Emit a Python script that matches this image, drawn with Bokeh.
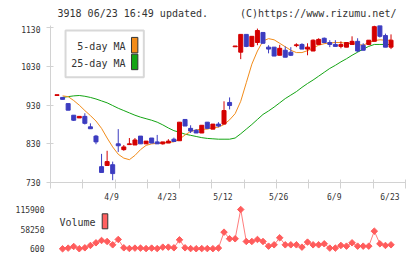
import numpy as np
from bokeh.plotting import figure
from bokeh.layouts import column
from bokeh.models import FixedTicker, Range1d, ColumnDataSource
from bokeh.core.properties import value
from bokeh.embed import file_html
from bokeh.resources import INLINE

# ---------------- data ----------------
date_labels = ["4/9", "4/23", "5/12", "5/26", "6/9", "6/23"]
date_label_idx = [10, 20, 30, 40, 50, 60]

opens = [955, 950, 934, 904, 897, 901, 874, 850, 771, 774,
         776, 830, 815, 828, 827, 850, 830, 845, 835, 830,
         832, 842, 838, 893, 870, 865, 858, 886, 868, 881,
         881, 937, 1081, 1067, 1113, 1082, 1092, 1118, 1080, 1080,
         1059, 1072, 1067, 1084, 1087, 1075, 1070, 1087, 1103, 1092,
         1087, 1082, 1080, 1087, 1095, 1085, 1087, 1095, 1136, 1110,
         1080]
highs = [957, 950, 934, 904, 901, 909, 883, 853, 804, 812,
         784, 868, 827, 845, 845, 850, 837, 845, 853, 835,
         842, 846, 886, 893, 878, 868, 878, 886, 881, 886,
         940, 950, 1083, 1113, 1113, 1108, 1128, 1118, 1085, 1080,
         1086, 1082, 1080, 1090, 1090, 1090, 1100, 1103, 1105, 1098,
         1098, 1095, 1092, 1108, 1103, 1090, 1098, 1136, 1136, 1115,
         1113]
lows = [955, 945, 917, 889, 897, 880, 869, 829, 756, 774,
        736, 809, 812, 828, 827, 830, 830, 832, 830, 828,
        832, 836, 838, 876, 858, 858, 858, 870, 868, 873,
        881, 919, 1081, 1049, 1080, 1080, 1085, 1090, 1064, 1057,
        1059, 1054, 1057, 1080, 1075, 1059, 1070, 1087, 1090, 1080,
        1082, 1077, 1080, 1087, 1067, 1072, 1085, 1095, 1105, 1080,
        1075]
closes = [957, 945, 917, 891, 901, 883, 869, 835, 756, 784,
          753, 825, 822, 830, 840, 830, 837, 832, 830, 835,
          837, 836, 886, 876, 863, 858, 878, 870, 881, 876,
          916, 929, 1083, 1113, 1082, 1108, 1123, 1090, 1075, 1057,
          1077, 1054, 1059, 1086, 1075, 1080, 1098, 1100, 1092, 1087,
          1082, 1087, 1092, 1095, 1070, 1072, 1098, 1133, 1108, 1080,
          1098]

# moving averages and volume start at the 2nd candle
ma5 = [954, 952, 942, 930, 916, 903, 889, 870, 845, 822,
       803, 793, 789, 800, 815, 826, 830, 831, 832, 834,
       835, 842, 853, 862, 866, 868, 868, 872, 873, 880,
       892, 908, 940, 988, 1036, 1070, 1096, 1102, 1099, 1090,
       1081, 1072, 1066, 1066, 1071, 1078, 1085, 1089, 1091, 1092,
       1092, 1090, 1089, 1087, 1085, 1092, 1097, 1099, 1098, 1098]
ma25 = [950, 952, 954, 955, 953, 950, 946, 941, 936, 929,
        922, 916, 910, 904, 899, 895, 891, 886, 879, 871,
        864, 860, 855, 852, 849, 846, 844, 843, 842, 842,
        842, 845, 856, 868, 880, 893, 906, 915, 925, 936,
        947, 956, 965, 976, 986, 995, 1005, 1015, 1025, 1033,
        1042, 1050, 1059, 1067, 1075, 1082, 1087, 1087, 1087, 1087]
volume = [600, 2600, 7400, 800, 3500, 10400, 18200, 25000, 22100, 12300,
          28000, 3500, 1500, 2600, 2600, 1200, 2600, 1200, 5500, 5500,
          3500, 27000, 3500, 1200, 800, 1200, 1200, 1000, 2600, 49500,
          30000, 30000, 115900, 22100, 22100, 28000, 22100, 8400, 12300, 32900,
          12300, 12300, 12300, 5500, 20200, 12300, 12300, 15300, 2600, 2600,
          10400, 8400, 18200, 8400, 8400, 8400, 52400, 15300, 10400, 12300]

price_ticks = [730, 830, 930, 1030, 1130]
vol_ticks = [600, 58250, 115900]
vol_tick_labels = ["600", "58250", "115900"]
legend_labels = ["5-day MA", "25-day MA"]
header_left = "3918 06/23 16:49 updated."
header_right = "(C)https://www.rizumu.net/"

# ---------------- styles ----------------
FONT = "DejaVu Sans Mono"
RED = "#d40000"
BLUE = "#3c3cc0"
ORANGE = "#f28c1a"
GREEN = "#14a514"
VOLC = "#ff5c5c"
AXIS = "#d2d2d2"
TXT = "#333333"

W = 420
X0, X1 = -1.17, 62.6

idx = list(range(len(opens)))
colors = [RED if c >= o else BLUE for o, c in zip(opens, closes)]
src = ColumnDataSource(dict(
    x=idx, high=highs, low=lows,
    top=[max(o, c) for o, c in zip(opens, closes)],
    bottom=[min(o, c) for o, c in zip(opens, closes)],
    color=colors))
ma_idx = list(range(1, len(opens)))

# ---------------- header strip ----------------
ph = figure(width=W, height=25, x_range=Range1d(0, W), y_range=Range1d(0, 25),
            output_backend="svg", toolbar_location=None,
            x_axis_location=None, y_axis_location=None,
            min_border_left=0, min_border_right=0, min_border_top=0, min_border_bottom=0)
ph.outline_line_color = None
ph.grid.visible = False
ph.text(x=[8.3], y=[12.3], text=[header_left], text_align="left", text_baseline="middle",
        text_font=value(FONT), text_font_size="10px", text_color=TXT)
ph.text(x=[409.3], y=[12.3], text=[header_right], text_align="right", text_baseline="middle",
        text_font=value(FONT), text_font_size="10px", text_color=TXT)

# ---------------- main price figure ----------------
p = figure(width=W, height=179, x_range=Range1d(X0, X1), y_range=Range1d(730, 1136),
           output_backend="svg", toolbar_location=None,
           min_border_left=50, min_border_right=15, min_border_top=0, min_border_bottom=20)
p.outline_line_color = None
p.grid.visible = False

p.line(ma_idx, ma25, color=GREEN, line_width=1)
p.line(ma_idx, ma5, color=ORANGE, line_width=1)

p.segment(x0="x", y0="low", x1="x", y1="high", color="color", line_width=1, source=src)
p.vbar(x="x", width=0.72, top="top", bottom="bottom", fill_color="color",
       line_color="color", line_width=1, source=src)

# legend box (text left, swatch right)
p.quad(left=[1.53], right=[15.59], top=[1123.1], bottom=[1002.4],
       fill_color="white", line_color="#d8d8d8", line_width=2)
p.text(x=[12.3, 12.3], y=[1080.5, 1038.1], text=legend_labels,
       text_align="right", text_baseline="middle", text_font=value(FONT),
       text_font_size="10px", text_color=TXT)
p.quad(left=[13.38, 13.38], right=[14.52, 14.52], top=[1105.2, 1061.8],
       bottom=[1065.2, 1021.8], fill_color=[ORANGE, GREEN],
       line_color="#333333", line_width=1)

p.yaxis.ticker = FixedTicker(ticks=price_ticks)
p.yaxis.axis_line_color = AXIS
p.yaxis.major_tick_line_color = AXIS
p.yaxis.minor_tick_line_color = None
p.yaxis.major_tick_in = 3
p.yaxis.major_tick_out = 4
p.yaxis.major_label_standoff = 6
p.yaxis.major_label_text_font = FONT
p.yaxis.major_label_text_font_size = "8px"
p.yaxis.major_label_text_color = TXT

label_pos = [i - 0.2 for i in date_label_idx]
p.xaxis.ticker = FixedTicker(ticks=label_pos, minor_ticks=list(np.linspace(X0, X1, 12)))
p.xaxis.major_label_overrides = {pos: lab for pos, lab in zip(label_pos, date_labels)}
p.xaxis.axis_line_color = AXIS
p.xaxis.major_tick_line_color = None
p.xaxis.major_tick_in = 0
p.xaxis.major_tick_out = 0
p.xaxis.minor_tick_line_color = AXIS
p.xaxis.minor_tick_in = 3
p.xaxis.minor_tick_out = 6
p.xaxis.major_label_standoff = 4
p.xaxis.major_label_text_font = FONT
p.xaxis.major_label_text_font_size = "8px"
p.xaxis.major_label_text_color = TXT

# ---------------- volume figure ----------------
pv = figure(width=W, height=55, x_range=p.x_range, y_range=Range1d(-30792, 130569),
            output_backend="svg", toolbar_location=None, x_axis_location=None,
            min_border_left=50, min_border_right=15, min_border_top=0, min_border_bottom=0)
pv.outline_line_color = None
pv.grid.visible = False

pv.line(ma_idx, volume, color=VOLC, line_width=1, line_alpha=0.8)
pv.scatter(ma_idx, volume, marker="square", angle=np.pi / 4, size=4.6,
           fill_color=VOLC, line_color=VOLC)

pv.text(x=[0.45], y=[78650], text=["Volume"], text_align="left", text_baseline="middle",
        text_font=value(FONT), text_font_size="10px", text_color=TXT)
pv.quad(left=[8.12], right=[9.12], top=[103290], bottom=[59280],
        fill_color="#ff6060", line_color="#333333", line_width=1)

pv.yaxis.ticker = FixedTicker(ticks=vol_ticks)
pv.yaxis.major_label_overrides = {t: s for t, s in zip(vol_ticks, vol_tick_labels)}
pv.yaxis.axis_line_color = None
pv.yaxis.major_tick_line_color = None
pv.yaxis.minor_tick_line_color = None
pv.yaxis.major_tick_in = 0
pv.yaxis.major_tick_out = 0
pv.yaxis.major_label_standoff = 6
pv.yaxis.major_label_text_font = FONT
pv.yaxis.major_label_text_font_size = "8px"
pv.yaxis.major_label_text_color = TXT

layout = column(ph, p, pv)
open("out.html", "w").write(file_html(layout, INLINE))
